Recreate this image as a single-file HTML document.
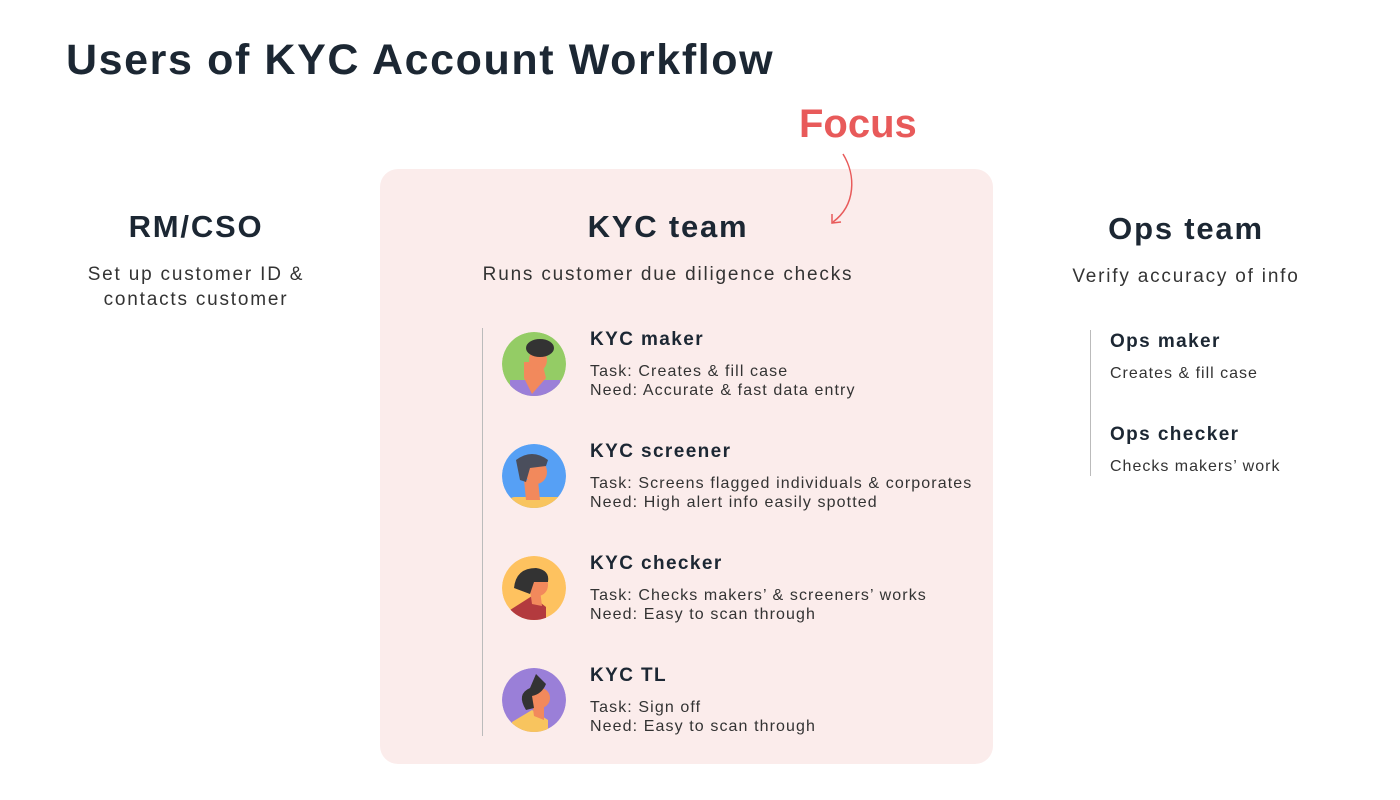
<!DOCTYPE html>
<html><head><meta charset="utf-8"><style>
body{margin:0;width:1400px;height:800px;background:#fff;position:relative;font-family:"Liberation Sans",sans-serif;color:#1c2733;overflow:hidden}
.a{position:absolute;white-space:nowrap}
.c{transform:translateX(-50%);text-align:center}
.h{font-size:31px;font-weight:bold;letter-spacing:1.8px}
.s{font-size:19px;color:#333;letter-spacing:1.8px;line-height:25px}
.r{font-size:19px;font-weight:bold;letter-spacing:1.4px}
.t{font-size:16px;color:#333;line-height:19px;letter-spacing:1.1px}
</style></head><body>
<div class="a" style="left:66px;top:36px;font-size:43px;font-weight:bold;letter-spacing:1.6px">Users of KYC Account Workflow</div>
<div class="a" style="left:380px;top:169px;width:613px;height:595px;background:#fbeceb;border-radius:18px"></div>
<div class="a" style="left:799px;top:102px;font-size:40px;font-weight:bold;color:#e85a5a">Focus</div>
<svg class="a" style="left:820px;top:145px" width="40" height="85"><path d="M23 9 C36 30 36 60 13 77" fill="none" stroke="#e85a5a" stroke-width="1.5"/><path d="M12 69 L12 78 L21 77" fill="none" stroke="#e85a5a" stroke-width="1.5"/></svg>

<div class="a c h" style="left:196px;top:209px">RM/CSO</div>
<div class="a c s" style="left:196px;top:262px">Set up customer ID &amp;<br>contacts customer</div>
<div class="a c h" style="left:668px;top:209px">KYC team</div>
<div class="a c s" style="left:668px;top:262px">Runs customer due diligence checks</div>
<div class="a c h" style="left:1186px;top:211px">Ops team</div>
<div class="a c s" style="left:1186px;top:264px">Verify accuracy of info</div>

<div class="a" style="left:482px;top:328px;width:1px;height:408px;background:#bbb"></div>
<div class="a" style="left:1090px;top:330px;width:1px;height:146px;background:#bbb"></div>

<svg class="a" style="left:502px;top:332px" width="64" height="400">
<defs><clipPath id="c1"><circle cx="32" cy="32" r="32"/></clipPath><clipPath id="c2"><circle cx="32" cy="144" r="32"/></clipPath><clipPath id="c3"><circle cx="32" cy="256" r="32"/></clipPath><clipPath id="c4"><circle cx="32" cy="368" r="32"/></clipPath></defs>
<g clip-path="url(#c1)"><circle cx="32" cy="32" r="32" fill="#94cc65"/><rect x="8" y="48" width="50" height="20" fill="#9b7fd8"/><path d="M22 30 L40 30 L44 46 L30 62 L22 46Z" fill="#f2895c"/><ellipse cx="36" cy="28" rx="9" ry="11" fill="#f2895c"/><ellipse cx="38" cy="16" rx="14" ry="9" fill="#333"/></g>
<g clip-path="url(#c2)"><circle cx="32" cy="144" r="32" fill="#56a0f5"/><rect x="5" y="165" width="60" height="20" rx="8" fill="#f8c45e"/><path d="M22 148 L36 148 L38 168 L24 168Z" fill="#f2895c"/><ellipse cx="34" cy="140" rx="11" ry="12" fill="#f2895c"/><path d="M14 128 Q30 116 46 128 L44 134 L28 136 L24 150 L18 148Z" fill="#4a4e5c"/></g>
<g clip-path="url(#c3)"><circle cx="32" cy="256" r="32" fill="#fec25f"/><path d="M8 278 L30 264 L44 275 L44 290 L8 290Z" fill="#b33a3e"/><path d="M28 258 L38 258 L40 274 L30 272Z" fill="#f2895c"/><ellipse cx="36" cy="253" rx="10" ry="11" fill="#f2895c"/><path d="M12 256 Q14 236 34 236 Q48 238 46 250 L32 250 L28 262 Z" fill="#333"/></g>
<g clip-path="url(#c4)"><circle cx="32" cy="368" r="32" fill="#9a7fd8"/><path d="M10 390 L30 378 L46 388 L46 402 L10 402Z" fill="#f8c45e"/><path d="M30 370 L42 370 L42 388 L32 384Z" fill="#f2895c"/><ellipse cx="38" cy="366" rx="10" ry="10" fill="#f2895c"/><path d="M24 378 Q14 362 28 356 L34 342 L44 352 Q40 362 30 364 L32 376Z" fill="#333"/></g>
</svg>

<div class="a r" style="left:590px;top:329px">KYC maker</div>
<div class="a t" style="left:590px;top:362px">Task: Creates &amp; fill case<br>Need: Accurate &amp; fast data entry</div>
<div class="a r" style="left:590px;top:441px">KYC screener</div>
<div class="a t" style="left:590px;top:474px">Task: Screens flagged individuals &amp; corporates<br>Need: High alert info easily spotted</div>
<div class="a r" style="left:590px;top:553px">KYC checker</div>
<div class="a t" style="left:590px;top:586px">Task: Checks makers’ &amp; screeners’ works<br>Need: Easy to scan through</div>
<div class="a r" style="left:590px;top:665px">KYC TL</div>
<div class="a t" style="left:590px;top:698px">Task: Sign off<br>Need: Easy to scan through</div>

<div class="a r" style="left:1110px;top:331px">Ops maker</div>
<div class="a t" style="left:1110px;top:364px;letter-spacing:1px">Creates &amp; fill case</div>
<div class="a r" style="left:1110px;top:424px">Ops checker</div>
<div class="a t" style="left:1110px;top:457px;letter-spacing:1px">Checks makers’ work</div>
</body></html>
